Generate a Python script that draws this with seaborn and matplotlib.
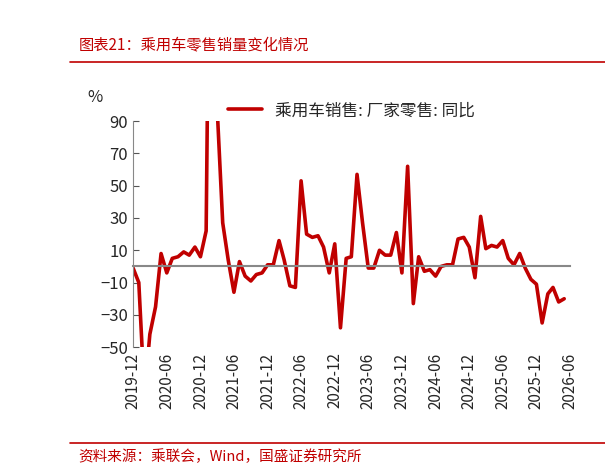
import matplotlib
matplotlib.use("Agg")
import matplotlib.pyplot as plt
import seaborn as sns
import pandas as pd
import numpy as np

sns.set_style("white")
plt.rcParams['font.family'] = ['Noto Sans CJK SC', 'DejaVu Sans']

months = pd.date_range("2019-12-01", periods=78, freq="MS")
values = [-1, -10, -80, -42, -25, 8, -4, 5, 6, 9, 7, 12, 6, 22, 370, 100, 27, 4, -16, 3,
          -6, -9, -5, -4, 1, 1, 16, 4, -12, -13, 53, 20, 18, 19, 12, -4, 14, -38, 5, 6,
          57, 27, -1, -1, 10, 7, 7, 21, -4, 62, -23, 6, -3, -2, -6, 0, 1, 1, 17, 18,
          12, -7, 31, 11, 13, 12, 16, 5, 1, 8, -1, -8, -11, -35, -17, -13, -22, -20]
tick_dates = pd.date_range("2019-12-01", "2026-06-01", freq="6MS")
tick_labels = [d.strftime("%Y-%m") for d in tick_dates]
series_name = "乘用车销售: 厂家零售: 同比"

df = pd.DataFrame({"date": months, "val": values})
red = "#C00000"

fig = plt.figure(figsize=(6.05, 4.73), dpi=100)
ax = fig.add_axes([0.22, 0.266, 0.722, 0.478])
sns.lineplot(data=df, x="date", y="val", ax=ax, color=red, lw=2.6, label=series_name)
ax.set_ylim(-50, 90)
ax.set_yticks(range(-50, 91, 20))
ax.set_xlim(tick_dates[0], tick_dates[-1])
ax.set_xticks(tick_dates)
ax.set_xticklabels(tick_labels)
ax.set_xlabel(""); ax.set_ylabel("")
for s in ["top", "right"]:
    ax.spines[s].set_visible(False)
ax.spines["bottom"].set_position(("data", 0))
ax.spines["bottom"].set_color("#888888")
ax.spines["bottom"].set_linewidth(1.5)
ax.spines["left"].set_color("#888888")
ax.tick_params(axis="x", direction="in", length=4, color="#555555", pad=62, labelsize=11,
               labelrotation=90)
ax.tick_params(axis="y", direction="in", length=4, color="#555555", labelsize=12, left=True)
for lab in ax.get_xticklabels():
    lab.set_rotation(90)
    lab.set_va("top")
    lab.set_ha("center")
ax.legend(loc="upper center", bbox_to_anchor=(0.5, 1.15), frameon=False, fontsize=12,
          handlelength=2)
fig.text(0.145, 0.785, "%", fontsize=12)

fig.text(0.13, 0.895, "图表21：乘用车零售销量变化情况", color=red, fontsize=11, style="italic")
fig.add_artist(plt.Line2D([0.115, 1.0], [0.868, 0.868], color=red, lw=1.2))
fig.add_artist(plt.Line2D([0.115, 1.0], [0.063, 0.063], color=red, lw=1.2))
fig.text(0.13, 0.025, "资料来源：乘联会，Wind，国盛证券研究所", color=red, fontsize=10.5, style="italic")

fig.savefig("out.png", dpi=100)
